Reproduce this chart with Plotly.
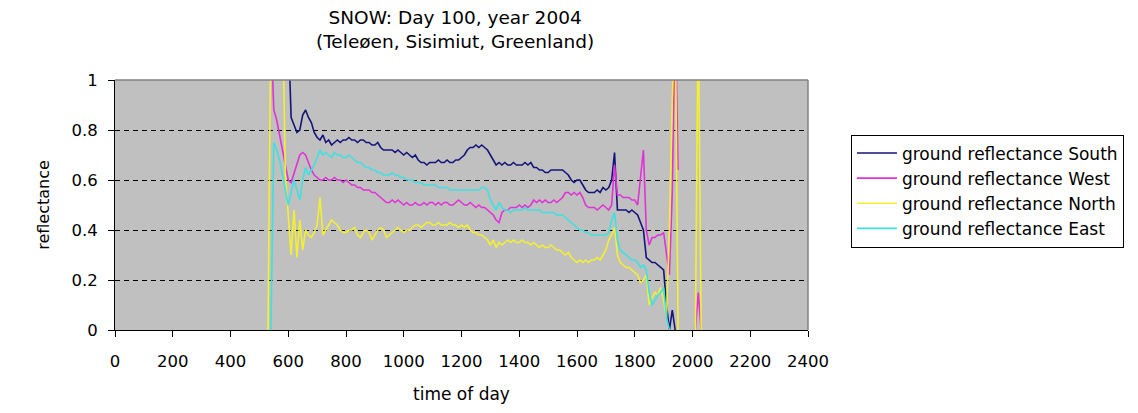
import plotly.graph_objects as go

# time of day sampling (HHMM-like scale)
time_of_day = [
    530, 540, 550, 560, 570, 580, 590,
    600, 610, 620, 630, 640, 650, 660, 670, 680, 690,
    700, 710, 720, 730, 740, 750, 760, 770, 780, 790,
    800, 810, 820, 830, 840, 850, 860, 870, 880, 890,
    900, 910, 920, 930, 940, 950, 960, 970, 980, 990,
    1000, 1010, 1020, 1030, 1040, 1050, 1060, 1070, 1080, 1090,
    1100, 1110, 1120, 1130, 1140, 1150, 1160, 1170, 1180, 1190,
    1200, 1210, 1220, 1230, 1240, 1250, 1260, 1270, 1280, 1290,
    1300, 1310, 1320, 1330, 1340, 1350, 1360, 1370, 1380, 1390,
    1400, 1410, 1420, 1430, 1440, 1450, 1460, 1470, 1480, 1490,
    1500, 1510, 1520, 1530, 1540, 1550, 1560, 1570, 1580, 1590,
    1600, 1610, 1620, 1630, 1640, 1650, 1660, 1670, 1680, 1690,
    1700, 1710, 1720, 1730, 1740, 1750, 1760, 1770, 1780, 1790,
    1800, 1810, 1820, 1830, 1840, 1850, 1860, 1870, 1880, 1890,
    1900, 1910, 1920, 1930, 1940, 1950, 1960, 1970, 1980, 1990,
    2000, 2010, 2020, 2030,
]

N = None
refl_south = [
    N, N, N, N, N, N, N,
    1.2, 0.85, 0.82, 0.79, 0.80, 0.86, 0.88, 0.85, 0.83, 0.79,
    0.77, 0.76, 0.78, 0.75, 0.76, 0.74, 0.75, 0.76, 0.75, 0.76,
    0.76, 0.77, 0.76, 0.76, 0.75, 0.76, 0.76, 0.75, 0.75, 0.74,
    0.74, 0.75, 0.73, 0.72, 0.72, 0.72, 0.72, 0.71, 0.72, 0.71,
    0.70, 0.71, 0.70, 0.69, 0.70, 0.68, 0.67, 0.67, 0.66, 0.67,
    0.67, 0.67, 0.68, 0.67, 0.67, 0.68, 0.67, 0.67, 0.68, 0.68,
    0.69, 0.70, 0.72, 0.73, 0.73, 0.74, 0.73, 0.74, 0.73, 0.72,
    0.70, 0.68, 0.66, 0.67, 0.66, 0.67, 0.66, 0.66, 0.67, 0.66,
    0.66, 0.66, 0.67, 0.66, 0.67, 0.65, 0.65, 0.64, 0.64, 0.63,
    0.63, 0.64, 0.64, 0.64, 0.64, 0.64, 0.63, 0.62, 0.60, 0.59,
    0.60, 0.60, 0.58, 0.56, 0.55, 0.55, 0.55, 0.56, 0.55, 0.57,
    0.56, 0.57, 0.60, 0.71, 0.48, 0.48, 0.48, 0.48, 0.47, 0.48,
    0.47, 0.46, 0.43, 0.40, 0.29, 0.28, 0.27, 0.27, 0.26, 0.25,
    0.24, 0.10, 0.0, 0.08, 0.0, N, N, N, N, N,
    N, N, N, N,
]

refl_west = [
    1.3, 1.2, 0.88, 0.84, 0.78, 0.72, 0.66,
    0.60, 0.59, 0.63, 0.67, 0.70, 0.71, 0.70, 0.67, 0.64, 0.62,
    0.61, 0.60, 0.60, 0.61, 0.60, 0.60, 0.61, 0.60, 0.60, 0.59,
    0.60, 0.59, 0.58, 0.58, 0.57, 0.57, 0.56, 0.56, 0.56, 0.55,
    0.55, 0.54, 0.53, 0.52, 0.51, 0.51, 0.52, 0.51, 0.52, 0.51,
    0.50, 0.51, 0.50, 0.50, 0.51, 0.50, 0.50, 0.51, 0.50, 0.51,
    0.51, 0.50, 0.51, 0.50, 0.51, 0.51, 0.50, 0.50, 0.51, 0.52,
    0.51, 0.50, 0.50, 0.51, 0.50, 0.49, 0.50, 0.49, 0.49, 0.48,
    0.47, 0.46, 0.44, 0.43, 0.47, 0.48, 0.48, 0.49, 0.49, 0.49,
    0.50, 0.49, 0.50, 0.49, 0.50, 0.52, 0.51, 0.52, 0.51, 0.52,
    0.51, 0.51, 0.52, 0.51, 0.52, 0.53, 0.55, 0.55, 0.54, 0.55,
    0.54, 0.55, 0.53, 0.50, 0.49, 0.49, 0.49, 0.48, 0.49, 0.50,
    0.49, 0.48, 0.50, 0.66, 0.54, 0.54, 0.53, 0.53, 0.53, 0.52,
    0.52, 0.50, 0.60, 0.72, 0.40, 0.34, 0.37, 0.37, 0.38, 0.38,
    0.39, 0.30, 0.22, 0.55, 1.3, 0.64, N, N, N, N,
    N, 0.0, 0.15, 0.0,
]

refl_north = [
    0.0, 1.3, 1.3, 1.3, 1.3, 1.3, 0.62,
    0.45, 0.30, 0.48, 0.29, 0.44, 0.32, 0.40, 0.38, 0.37, 0.39,
    0.42, 0.53, 0.38, 0.40, 0.42, 0.44, 0.43, 0.42, 0.40, 0.39,
    0.39, 0.40, 0.40, 0.41, 0.38, 0.37, 0.39, 0.40, 0.39, 0.36,
    0.38, 0.40, 0.41, 0.40, 0.37, 0.38, 0.39, 0.40, 0.41, 0.40,
    0.39, 0.40, 0.40, 0.41, 0.42, 0.42, 0.41, 0.42, 0.43, 0.43,
    0.42, 0.42, 0.43, 0.42, 0.42, 0.42, 0.43, 0.42, 0.42, 0.41,
    0.42, 0.41, 0.42, 0.40, 0.39, 0.39, 0.38, 0.38, 0.37, 0.36,
    0.34, 0.36, 0.33, 0.35, 0.34, 0.35, 0.36, 0.35, 0.36, 0.35,
    0.35, 0.36, 0.35, 0.35, 0.34, 0.35, 0.34, 0.33, 0.34, 0.33,
    0.33, 0.34, 0.33, 0.32, 0.32, 0.31, 0.30, 0.31, 0.29, 0.28,
    0.27, 0.28, 0.27, 0.28, 0.27, 0.28, 0.28, 0.29, 0.28, 0.30,
    0.32, 0.36, 0.38, 0.41, 0.30, 0.27, 0.26, 0.25, 0.25, 0.24,
    0.23, 0.22, 0.19, 0.20, 0.22, 0.10, 0.13, 0.15, 0.14, 0.17,
    0.12, 0.05, 0.40, 0.92, 1.3, 0.0, N, N, N, N,
    N, 0.0, 1.3, 0.0,
]

refl_east = [
    N, 0.0, 0.75, 0.72, 0.68, 0.62, 0.56,
    0.50, 0.55, 0.60, 0.56, 0.52, 0.60, 0.65, 0.62, 0.64, 0.66,
    0.69, 0.72, 0.70, 0.71, 0.70, 0.69, 0.71, 0.70, 0.70, 0.69,
    0.69, 0.70, 0.69, 0.68, 0.67, 0.67, 0.66, 0.65, 0.65, 0.64,
    0.64, 0.63, 0.63, 0.62, 0.62, 0.62, 0.63, 0.62, 0.62, 0.61,
    0.61, 0.60, 0.60, 0.60, 0.59, 0.59, 0.59, 0.58, 0.58, 0.58,
    0.58, 0.58, 0.57, 0.57, 0.57, 0.57, 0.56, 0.56, 0.56, 0.56,
    0.56, 0.56, 0.56, 0.56, 0.56, 0.56, 0.56, 0.57, 0.57, 0.56,
    0.52, 0.50, 0.48, 0.51, 0.49, 0.48, 0.48, 0.47, 0.48, 0.48,
    0.48, 0.48, 0.49, 0.48, 0.48, 0.48, 0.48, 0.48, 0.47, 0.47,
    0.47, 0.47, 0.47, 0.46, 0.46, 0.46, 0.45, 0.44, 0.43, 0.42,
    0.41, 0.40, 0.40, 0.39, 0.39, 0.38, 0.38, 0.38, 0.38, 0.38,
    0.38, 0.39, 0.44, 0.47, 0.36, 0.32, 0.31, 0.30, 0.29, 0.28,
    0.28, 0.27, 0.25, 0.26, 0.24, 0.15, 0.10, 0.12, 0.14, 0.15,
    0.17, 0.05, 0.0, N, N, N, N, N, N, N,
    N, N, N, N,
]

series_names = [
    "ground reflectance South",
    "ground reflectance West",
    "ground reflectance North",
    "ground reflectance East",
]
series_values = [refl_south, refl_west, refl_north, refl_east]
series_colors = ["#14147a", "#e032d8", "#f4f030", "#3ee0e0"]

x_ticks = [0, 200, 400, 600, 800, 1000, 1200, 1400, 1600, 1800, 2000, 2200, 2400]
y_ticks = [0, 0.2, 0.4, 0.6, 0.8, 1]
y_tick_labels = ["0", "0.2", "0.4", "0.6", "0.8", "1"]
chart_title = "SNOW: Day 100, year 2004<br>(Teleøen, Sisimiut, Greenland)"

FONT = "DejaVu Sans, Verdana, sans-serif"

fig = go.Figure()
for name, vals, col in zip(series_names, series_values, series_colors):
    fig.add_trace(go.Scatter(
        x=time_of_day, y=vals, name=name, mode="lines",
        line=dict(color=col, width=1.6), connectgaps=False,
    ))

# page body has an 8px default margin, so the figure is sized to fit the window
fig.update_layout(
    width=1130, height=405,
    margin=dict(l=107, r=330, t=72, b=81),
    paper_bgcolor="white",
    plot_bgcolor="#c0c0c0",
    font=dict(family=FONT, size=16, color="black"),
    showlegend=True,
    legend=dict(
        x=1.062, y=0.556, xanchor="left", yanchor="middle",
        bordercolor="black", borderwidth=1, bgcolor="white",
        font=dict(family=FONT, size=17, color="black"),
        tracegroupgap=0, itemwidth=40,
    ),
    annotations=[
        dict(text=chart_title, xref="paper", yref="paper",
             x=0.4906, y=1.204, xanchor="center", yanchor="middle",
             showarrow=False, align="center",
             font=dict(family=FONT, size=18.5, color="black")),
    ],
    xaxis=dict(
        range=[0, 2400], tickvals=x_ticks,
        showgrid=False, zeroline=False,
        showline=True, linecolor="black", linewidth=1,
        ticks="outside", ticklen=6, tickcolor="black",
        ticklabelstandoff=10,
        tickfont=dict(family=FONT, size=16.5),
        title=dict(text="time of day", font=dict(family=FONT, size=17), standoff=18),
    ),
    yaxis=dict(
        range=[0, 1], tickvals=y_ticks, ticktext=y_tick_labels,
        showgrid=True, gridcolor="black", griddash="5px,4px", gridwidth=1,
        zeroline=False,
        showline=True, linecolor="black", linewidth=1,
        ticks="outside", ticklen=6, tickcolor="black",
        ticklabelstandoff=7,
        tickfont=dict(family=FONT, size=16.5),
        title=dict(text="reflectance", font=dict(family=FONT, size=16), standoff=17),
    ),
    shapes=[
        dict(type="line", xref="paper", yref="paper", x0=0, x1=1, y0=1, y1=1,
             line=dict(color="#808080", width=1.5), layer="above"),
        dict(type="line", xref="paper", yref="paper", x0=1, x1=1, y0=0, y1=1,
             line=dict(color="#808080", width=1.5), layer="above"),
    ],
)

fig.write_html("out.html")
